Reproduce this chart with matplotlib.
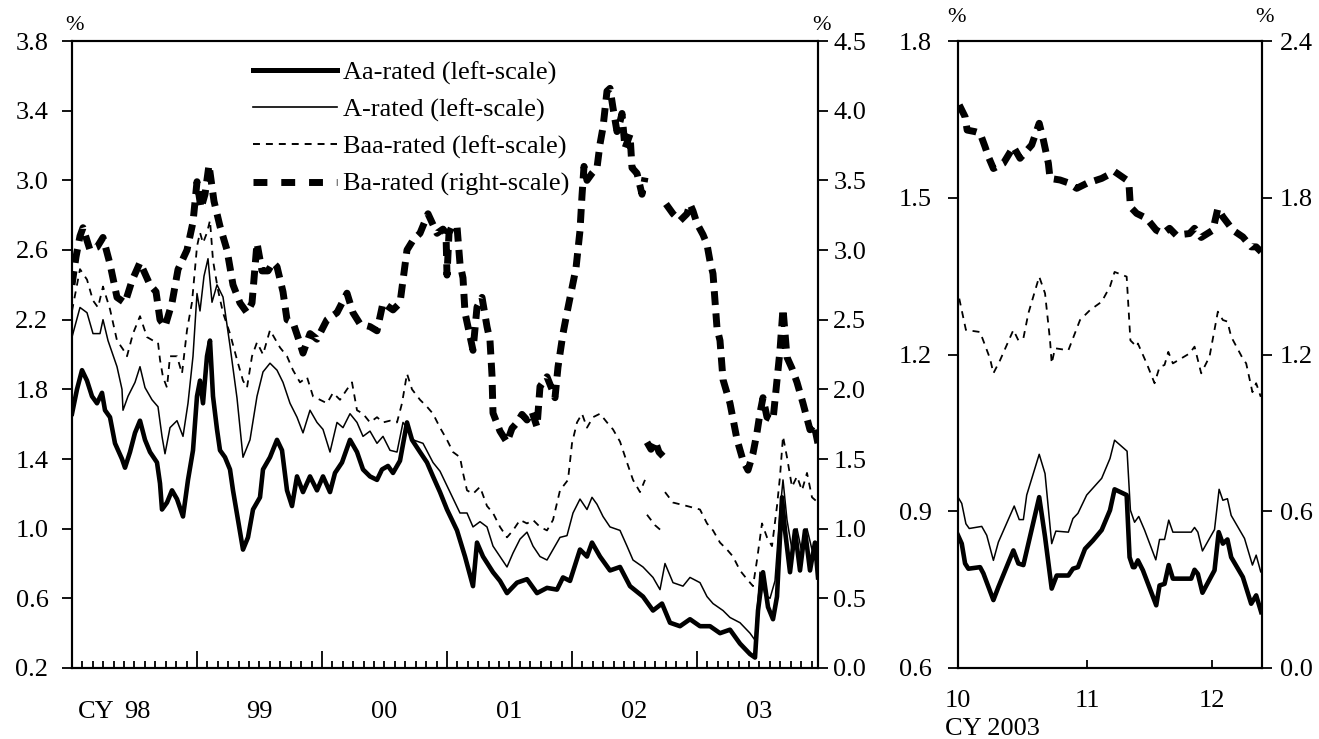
import numpy as np
import matplotlib
matplotlib.use("Agg")
import matplotlib.pyplot as plt
from matplotlib.lines import Line2D
from matplotlib.ticker import FormatStrFormatter, FixedLocator
from matplotlib.transforms import blended_transform_factory

plt.rcParams['font.family'] = ['Liberation Serif', 'DejaVu Serif']
plt.rcParams['font.size'] = 19
plt.rcParams['lines.scale_dashes'] = False

nan = float('nan')

# ---------------- Left panel: daily yields, CY1998 - CY2003 (decimal years) ----------------
aa_t = [1998.000, 1998.040, 1998.080, 1998.120, 1998.160, 1998.200, 1998.240, 1998.264, 1998.304, 1998.344,
        1998.400, 1998.424, 1998.464, 1998.504, 1998.544, 1998.584, 1998.624, 1998.680, 1998.704, 1998.720,
        1998.760, 1998.800, 1998.840, 1998.888, 1998.928, 1998.968, 1999.000, 1999.024, 1999.048, 1999.080,
        1999.104, 1999.128, 1999.160, 1999.184, 1999.224, 1999.264, 1999.288, 1999.328, 1999.368, 1999.408,
        1999.448, 1999.504, 1999.528, 1999.584, 1999.640, 1999.680, 1999.720, 1999.760, 1999.800, 1999.848,
        1999.904, 1999.960, 2000.008, 2000.064, 2000.104, 2000.160, 2000.224, 2000.280, 2000.328, 2000.384,
        2000.440, 2000.480, 2000.528, 2000.568, 2000.624, 2000.680, 2000.720, 2000.784, 2000.840, 2000.888,
        2000.944, 2001.000, 2001.080, 2001.144, 2001.208, 2001.240, 2001.288, 2001.368, 2001.424, 2001.480,
        2001.560, 2001.640, 2001.720, 2001.800, 2001.880, 2001.928, 2001.984, 2002.064, 2002.120, 2002.160,
        2002.224, 2002.304, 2002.384, 2002.464, 2002.568, 2002.648, 2002.720, 2002.784, 2002.864, 2002.944,
        2003.024, 2003.104, 2003.184, 2003.264, 2003.344, 2003.424, 2003.464, 2003.488, 2003.528, 2003.568,
        2003.608, 2003.640, 2003.680, 2003.704, 2003.744, 2003.784, 2003.824, 2003.864, 2003.904, 2003.944,
        2003.968]
aa_v = [1.66, 1.80, 1.91, 1.85, 1.76, 1.72, 1.78, 1.68, 1.64, 1.49,
        1.40, 1.35, 1.44, 1.55, 1.62, 1.51, 1.44, 1.38, 1.26, 1.11,
        1.15, 1.22, 1.17, 1.07, 1.28, 1.45, 1.76, 1.85, 1.72, 1.99,
        2.08, 1.76, 1.57, 1.45, 1.41, 1.34, 1.22, 1.05, 0.88, 0.95,
        1.11, 1.18, 1.34, 1.41, 1.51, 1.45, 1.22, 1.13, 1.30, 1.21,
        1.30, 1.22, 1.30, 1.21, 1.32, 1.38, 1.51, 1.44, 1.34, 1.30,
        1.28, 1.34, 1.36, 1.32, 1.39, 1.61, 1.51, 1.44, 1.38, 1.30,
        1.21, 1.11, 0.99, 0.84, 0.67, 0.92, 0.84, 0.75, 0.70, 0.63,
        0.69, 0.71, 0.63, 0.66, 0.65, 0.72, 0.70, 0.88, 0.84, 0.92,
        0.84, 0.76, 0.78, 0.67, 0.61, 0.53, 0.57, 0.46, 0.44, 0.48,
        0.44, 0.44, 0.40, 0.42, 0.34, 0.28, 0.26, 0.53, 0.75, 0.55,
        0.48, 0.61, 1.18, 0.99, 0.75, 0.99, 0.76, 0.99, 0.76, 0.92,
        0.72]

a_t = [1998.000, 1998.064, 1998.120, 1998.168, 1998.224, 1998.248, 1998.288, 1998.360, 1998.400, 1998.408,
       1998.448, 1998.504, 1998.544, 1998.584, 1998.640, 1998.688, 1998.720, 1998.744, 1998.784, 1998.840,
       1998.888, 1998.928, 1998.968, 1999.000, 1999.024, 1999.056, 1999.088, 1999.120, 1999.160, 1999.208,
       1999.264, 1999.320, 1999.368, 1999.424, 1999.480, 1999.528, 1999.584, 1999.640, 1999.688, 1999.744,
       1999.800, 1999.848, 1999.904, 1999.960, 2000.008, 2000.064, 2000.120, 2000.168, 2000.224, 2000.280,
       2000.328, 2000.384, 2000.440, 2000.488, 2000.544, 2000.600, 2000.648, 2000.680, 2000.728, 2000.808,
       2000.888, 2000.944, 2001.024, 2001.104, 2001.160, 2001.208, 2001.264, 2001.320, 2001.368, 2001.424,
       2001.480, 2001.528, 2001.584, 2001.640, 2001.688, 2001.744, 2001.800, 2001.848, 2001.904, 2001.960,
       2002.008, 2002.064, 2002.120, 2002.160, 2002.200, 2002.248, 2002.304, 2002.384, 2002.440, 2002.488,
       2002.568, 2002.648, 2002.704, 2002.744, 2002.808, 2002.888, 2002.944, 2003.024, 2003.080, 2003.128,
       2003.208, 2003.264, 2003.344, 2003.424, 2003.464, 2003.504, 2003.544, 2003.584, 2003.624, 2003.664,
       2003.688, 2003.720, 2003.760, 2003.800, 2003.840, 2003.880, 2003.920, 2003.968]
a_v = [2.10, 2.27, 2.24, 2.12, 2.12, 2.20, 2.08, 1.93, 1.80, 1.68,
       1.76, 1.84, 1.93, 1.81, 1.74, 1.70, 1.53, 1.43, 1.58, 1.62,
       1.53, 1.72, 1.99, 2.35, 2.25, 2.45, 2.55, 2.30, 2.40, 2.33,
       2.05, 1.75, 1.41, 1.51, 1.76, 1.90, 1.95, 1.91, 1.84, 1.72,
       1.64, 1.55, 1.68, 1.61, 1.57, 1.44, 1.61, 1.58, 1.66, 1.61,
       1.53, 1.56, 1.49, 1.53, 1.45, 1.44, 1.61, 1.58, 1.51, 1.49,
       1.38, 1.33, 1.21, 1.09, 1.09, 1.01, 1.04, 1.01, 0.90, 0.84,
       0.78, 0.86, 0.94, 0.98, 0.90, 0.84, 0.82, 0.88, 0.95, 0.96,
       1.09, 1.17, 1.11, 1.18, 1.14, 1.07, 1.01, 0.99, 0.90, 0.82,
       0.78, 0.72, 0.65, 0.80, 0.69, 0.67, 0.72, 0.69, 0.61, 0.57,
       0.53, 0.49, 0.46, 0.40, 0.36, 0.75, 0.62, 0.60, 0.70, 1.10,
       1.28, 1.05, 0.88, 1.00, 0.86, 1.00, 0.88, 0.80]

baa_t = [1998.000, 1998.064, 1998.120, 1998.168, 1998.208, 1998.248, 1998.304, 1998.360, 1998.408, 1998.440,
         1998.488, 1998.544, 1998.600, 1998.648, 1998.688, 1998.704, 1998.728, 1998.760, 1998.784, 1998.840,
         1998.880, 1998.920, 1998.960, 1999.000, 1999.024, 1999.048, 1999.080, 1999.104, 1999.128, 1999.168,
         1999.208, 1999.264, 1999.320, 1999.368, 1999.400, 1999.440, 1999.480, 1999.528, 1999.584, 1999.664,
         1999.720, 1999.768, 1999.824, 1999.880, 1999.928, 1999.984, 2000.040, 2000.088, 2000.144, 2000.200,
         2000.240, 2000.280, 2000.328, 2000.384, 2000.440, 2000.488, 2000.544, 2000.600, 2000.640, 2000.680,
         2000.720, 2000.784, 2000.840, 2000.888, 2000.944, 2001.000, 2001.048, 2001.104, 2001.128, 2001.160,
         2001.208, 2001.264, 2001.320, 2001.368, 2001.424, 2001.480, 2001.528, 2001.584, 2001.640, 2001.688,
         2001.744, 2001.800, 2001.848, 2001.904, 2001.968, 2002.000, 2002.040, 2002.080, 2002.120, 2002.168,
         2002.224, 2002.280, 2002.328, 2002.384, 2002.440, 2002.488, 2002.544, 2002.584, 2002.592, 2002.600,
         2002.664, 2002.728, 2002.736, 2002.744, 2002.808, 2002.920, 2003.024, 2003.080, 2003.128, 2003.184,
         2003.240, 2003.288, 2003.344, 2003.400, 2003.448, 2003.480, 2003.520, 2003.560, 2003.600, 2003.640,
         2003.664, 2003.688, 2003.720, 2003.760, 2003.800, 2003.840, 2003.880, 2003.920, 2003.968]
baa_v = [2.25, 2.49, 2.43, 2.31, 2.27, 2.39, 2.26, 2.08, 2.03, 1.99,
         2.12, 2.22, 2.10, 2.08, 2.07, 1.97, 1.87, 1.81, 1.99, 1.99,
         1.89, 2.14, 2.30, 2.62, 2.70, 2.64, 2.70, 2.77, 2.54, 2.37,
         2.24, 2.12, 1.97, 1.85, 1.81, 1.99, 2.07, 2.00, 2.14, 2.04,
         1.99, 1.91, 1.84, 1.87, 1.76, 1.74, 1.72, 1.78, 1.74, 1.80,
         1.84, 1.68, 1.66, 1.61, 1.64, 1.61, 1.62, 1.61, 1.72, 1.89,
         1.80, 1.74, 1.70, 1.66, 1.58, 1.51, 1.44, 1.41, 1.32, 1.22,
         1.20, 1.24, 1.13, 1.09, 1.01, 0.95, 0.99, 1.05, 1.03, 1.05,
         1.01, 0.99, 1.05, 1.22, 1.28, 1.49, 1.61, 1.66, 1.58, 1.64,
         1.66, 1.61, 1.57, 1.50, 1.38, 1.28, 1.21, 1.28, nan, 1.08,
         1.02, 0.98, nan, 1.21, 1.15, 1.13, 1.11, 1.03, 0.99, 0.92,
         0.88, 0.84, 0.76, 0.71, 0.67, 0.82, 1.03, 0.95, 0.90, 1.13,
         1.30, 1.53, 1.41, 1.24, 1.30, 1.22, 1.32, 1.18, 1.15]

ba_t = [1998.000, 1998.032, 1998.064, 1998.088, 1998.144, 1998.200, 1998.248, 1998.304, 1998.360, 1998.424,
        1998.480, 1998.544, 1998.624, 1998.672, 1998.704, 1998.744, 1998.800, 1998.848, 1998.920, 1998.968,
        1999.000, 1999.032, 1999.064, 1999.096, 1999.136, 1999.184, 1999.240, 1999.288, 1999.344, 1999.400,
        1999.440, 1999.480, 1999.520, 1999.568, 1999.608, 1999.640, 1999.688, 1999.720, 1999.768, 1999.824,
        1999.848, 1999.904, 1999.960, 2000.040, 2000.120, 2000.200, 2000.248, 2000.304, 2000.384, 2000.440,
        2000.488, 2000.568, 2000.624, 2000.680, 2000.728, 2000.784, 2000.848, 2000.920, 2000.968, 2000.992,
        2001.000, 2001.016, 2001.040, 2001.080, 2001.104, 2001.128, 2001.144, 2001.168, 2001.208, 2001.240,
        2001.280, 2001.320, 2001.344, 2001.360, 2001.368, 2001.424, 2001.480, 2001.520, 2001.560, 2001.600,
        2001.640, 2001.680, 2001.720, 2001.744, 2001.800, 2001.840, 2001.864, 2001.888, 2001.928, 2001.960,
        2002.000, 2002.032, 2002.064, 2002.080, 2002.096, 2002.120, 2002.160, 2002.200, 2002.224, 2002.248,
        2002.280, 2002.304, 2002.328, 2002.360, 2002.384, 2002.400, 2002.424, 2002.464, 2002.480, 2002.520,
        2002.560, 2002.584, 2002.592, 2002.600, 2002.632, 2002.664, 2002.696, 2002.728, 2002.740, 2002.752,
        2002.808, 2002.864, 2002.920, 2002.944, 2002.968, 2003.000, 2003.048, 2003.080, 2003.104, 2003.128,
        2003.144, 2003.160, 2003.184, 2003.208, 2003.264, 2003.320, 2003.368, 2003.408, 2003.448, 2003.480,
        2003.504, 2003.528, 2003.560, 2003.608, 2003.640, 2003.664, 2003.688, 2003.720, 2003.760, 2003.800,
        2003.848, 2003.904, 2003.936, 2003.968]
ba_v = [2.75, 2.95, 3.10, 3.16, 3.00, 3.02, 3.09, 2.90, 2.66, 2.62,
        2.78, 2.91, 2.75, 2.70, 2.50, 2.45, 2.62, 2.86, 3.00, 3.20,
        3.49, 3.30, 3.40, 3.61, 3.35, 3.17, 3.00, 2.75, 2.62, 2.55,
        2.62, 3.05, 2.85, 2.85, 2.91, 2.88, 2.70, 2.50, 2.48, 2.33,
        2.26, 2.40, 2.36, 2.50, 2.55, 2.69, 2.55, 2.47, 2.45, 2.42,
        2.62, 2.57, 2.62, 3.00, 3.07, 3.12, 3.26, 3.12, 3.15, 3.12,
        2.82, 3.12, 3.17, 3.17, 2.90, 2.80, 2.55, 2.45, 2.28, 2.59,
        2.66, 2.45, 2.35, 2.10, 1.83, 1.70, 1.62, 1.72, 1.76, 1.82,
        1.78, 1.84, 1.73, 2.02, 2.09, 2.00, 1.94, 2.16, 2.40, 2.55,
        2.73, 2.87, 3.14, 3.39, 3.60, 3.50, 3.55, 3.59, 3.76, 3.88,
        4.14, 4.16, 4.02, 3.85, 3.92, 3.98, 3.73, 3.83, 3.59, 3.55,
        3.40, 3.52, nan, 1.62, 1.57, 1.63, 1.55, 1.52, nan, 3.33,
        3.26, 3.21, 3.26, 3.33, 3.28, 3.19, 3.11, 3.04, 2.92, 2.83,
        2.63, 2.44, 2.35, 2.07, 1.90, 1.64, 1.49, 1.42, 1.54, 1.69,
        1.83, 1.94, 1.80, 1.78, 2.07, 2.28, 2.58, 2.23, 2.15, 2.05,
        1.90, 1.71, 1.75, 1.61]

year_labels = ['98', '99', '00', '01', '02', '03']
year_starts = [1998, 1999, 2000, 2001, 2002, 2003]

# ---------------- Right panel: Oct 1 - mid Dec 2003 (days since Oct 1) ----------------
q_aa_d = [0.0, 0.9, 1.7, 2.5, 5.3, 6.1, 8.5, 9.7, 13.3, 14.5, 15.7, 19.5, 20.9, 22.5, 23.7, 26.5,
          27.6, 28.8, 30.5, 32.4, 34.5, 36.5, 37.6, 40.5, 41.2, 42.0, 42.4, 43.2, 44.4, 47.6, 48.4,
          49.6, 50.6, 51.6, 56.0, 56.8, 57.6, 58.7, 61.6, 62.6, 63.6, 64.7, 65.6, 68.4, 70.4, 71.6, 72.8]
q_aa_v = [0.854, 0.838, 0.80, 0.79, 0.793, 0.781, 0.73, 0.755, 0.825, 0.80, 0.797, 0.927, 0.851, 0.752,
          0.777, 0.777, 0.79, 0.793, 0.828, 0.844, 0.864, 0.902, 0.942, 0.931, 0.812, 0.793, 0.793, 0.806,
          0.787, 0.72, 0.758, 0.761, 0.797, 0.771, 0.771, 0.788, 0.78, 0.744, 0.787, 0.86, 0.838, 0.846,
          0.812, 0.774, 0.723, 0.739, 0.707]

q_a_d = [0.0, 0.9, 1.9, 2.7, 5.7, 6.9, 8.5, 9.7, 13.5, 14.7, 15.7, 16.5, 19.5, 20.9, 22.5, 23.5,
         26.5, 27.6, 28.8, 30.9, 34.5, 36.5, 37.6, 40.6, 41.4, 42.4, 43.4, 44.8, 47.5, 48.4, 49.6,
         50.6, 51.6, 56.0, 56.8, 57.6, 58.7, 61.6, 62.7, 63.6, 64.7, 65.6, 68.8, 70.7, 71.6, 72.7]
q_a_v = [0.927, 0.915, 0.876, 0.867, 0.871, 0.854, 0.806, 0.841, 0.91, 0.884, 0.884, 0.931, 1.009,
         0.972, 0.838, 0.862, 0.86, 0.886, 0.896, 0.931, 0.963, 1.001, 1.036, 1.015, 0.902, 0.879, 0.89,
         0.864, 0.807, 0.846, 0.846, 0.883, 0.86, 0.86, 0.869, 0.86, 0.824, 0.865, 0.942, 0.921, 0.924,
         0.892, 0.848, 0.797, 0.816, 0.784]

q_baa_d = [0.3, 1.9, 5.3, 7.7, 8.5, 10.1, 13.3, 14.5, 15.7, 16.9, 19.5, 20.9, 22.1, 22.5, 23.3,
           26.5, 29.3, 31.7, 34.5, 36.5, 37.6, 40.5, 41.4, 42.9, 43.2, 45.3, 47.2, 48.4, 49.6, 50.5,
           51.6, 55.6, 56.8, 58.4, 60.4, 62.4, 63.6, 64.7, 65.6, 68.4, 69.2, 70.7, 71.6, 72.7]
q_baa_v = [1.307, 1.247, 1.243, 1.192, 1.164, 1.189, 1.247, 1.227, 1.231, 1.279, 1.349, 1.317, 1.227,
           1.183, 1.212, 1.208, 1.266, 1.285, 1.301, 1.33, 1.358, 1.349, 1.227, 1.215, 1.221, 1.183,
           1.145, 1.176, 1.18, 1.205, 1.183, 1.202, 1.215, 1.164, 1.196, 1.282, 1.266, 1.263, 1.234,
           1.192, 1.183, 1.128, 1.145, 1.119]

q_ba_d = [0.3, 1.7, 2.2, 4.1, 5.3, 6.5, 7.3, 8.5, 10.9, 13.3, 14.9, 17.7, 19.5, 20.5, 21.7, 22.1,
          24.5, 26.5, 28.5, 30.9, 34.5, 37.6, 40.5, 41.1, 41.4, 42.9, 45.3, 47.6, 49.2, 50.8, 52.4,
          55.6, 56.8, 58.4, 61.2, 62.4, 63.6, 64.8, 66.0, 68.4, 70.4, 71.6, 72.8]
q_ba_v = [2.155, 2.11, 2.059, 2.053, 2.047, 1.995, 1.957, 1.912, 1.932, 1.995, 1.951, 2.002, 2.085,
          2.021, 1.932, 1.874, 1.868, 1.857, 1.836, 1.855, 1.874, 1.9, 1.868, 1.842, 1.765, 1.74, 1.721,
          1.676, 1.663, 1.683, 1.657, 1.663, 1.683, 1.648, 1.676, 1.759, 1.727, 1.702, 1.676, 1.65,
          1.612, 1.612, 1.593]

month_labels = ['10', '11', '12']
month_starts = [0, 31, 61]

labels = ['Aa-rated (left-scale)', 'A-rated (left-scale)', 'Baa-rated (left-scale)', 'Ba-rated (right-scale)']

# ---------------- styles ----------------
st_aa = dict(color='black', lw=3.3, solid_joinstyle='round')
st_a = dict(color='black', lw=1.1)
st_baa = dict(color='black', lw=1.3, linestyle=(0, (5.0, 4.3)), dash_capstyle='butt')
st_ba = dict(color='black', lw=5.0, linestyle=(0, (10.0, 6.0)), dash_capstyle='butt')

W, H = 1319, 739
fig = plt.figure(figsize=(W / 100, H / 100), dpi=100)

def frac(x0, y0, x1, y1):
    return [x0 / W, 1 - y1 / H, (x1 - x0) / W, (y1 - y0) / H]

axL = fig.add_axes(frac(72, 41, 818, 668))
axL2 = axL.twinx()
axR = fig.add_axes(frac(958, 41, 1262, 668))
axR2 = axR.twinx()

axL.plot(aa_t, aa_v, **st_aa)
axL.plot(a_t, a_v, **st_a)
axL.plot(baa_t, baa_v, **st_baa)
axL2.plot(ba_t, ba_v, **st_ba)

axR.plot(q_aa_d, q_aa_v, **st_aa)
axR.plot(q_a_d, q_a_v, **st_a)
axR.plot(q_baa_d, q_baa_v, **st_baa)
axR2.plot(q_ba_d, q_ba_v, **st_ba)

# ---- axes setup: left panel ----
axL.set_xlim(1998, 1998 + 746 / 125)
axL.set_ylim(0.2, 3.8)
axL.set_yticks(np.round(np.arange(0.2, 3.81, 0.4), 1))
axL2.set_ylim(0.0, 4.5)
axL2.set_yticks(np.round(np.arange(0.0, 4.51, 0.5), 1))
axL.xaxis.set_major_locator(FixedLocator(year_starts))
axL.xaxis.set_minor_locator(FixedLocator([y + m / 12 for y in year_starts for m in range(1, 12)]))
axL.set_xticklabels([])
axL.tick_params(axis='x', which='major', direction='in', length=12, width=1.3, labelbottom=False)
axL.tick_params(axis='x', which='minor', direction='in', length=5, width=1.3)
axL.tick_params(axis='y', direction='out', length=7, width=1.3, pad=10, labelsize=19)
axL2.tick_params(axis='y', direction='out', length=7, width=1.3, pad=4, labelsize=19)
axL.yaxis.set_major_formatter(FormatStrFormatter('%.1f'))
axL2.yaxis.set_major_formatter(FormatStrFormatter('%.1f'))

# ---- axes setup: right panel ----
axR.set_xlim(0, 73)
axR.set_ylim(0.6, 1.8)
axR.set_yticks([0.6, 0.9, 1.2, 1.5, 1.8])
axR2.set_ylim(0.0, 2.4)
axR2.set_yticks([0.0, 0.6, 1.2, 1.8, 2.4])
axR.set_xticks(month_starts)
axR.set_xticklabels(month_labels)
axR.tick_params(axis='x', direction='in', length=6, width=1.3, pad=16, labelsize=19)
axR.tick_params(axis='y', direction='out', length=7, width=1.3, pad=12, labelsize=19)
axR2.tick_params(axis='y', direction='out', length=7, width=1.3, pad=6, labelsize=19)
axR.yaxis.set_major_formatter(FormatStrFormatter('%.1f'))
axR2.yaxis.set_major_formatter(FormatStrFormatter('%.1f'))

for ax in (axL, axL2, axR, axR2):
    for s in ax.spines.values():
        s.set_linewidth(1.5)

# year labels at mid-year
trL = blended_transform_factory(axL.transData, axL.transAxes)
for y0, lab in zip(year_starts, year_labels):
    xpos = y0 + 0.5 + (0.02 if lab == '98' else 0.0)
    axL.text(xpos, -0.070, lab, transform=trL, ha='center', va='center', fontsize=19)
axL.text(1998.19, -0.070, 'CY', transform=trL, ha='center', va='center', fontsize=19)

trR = blended_transform_factory(axR.transData, axR.transAxes)
axR.text(-3.2, -0.098, 'CY 2003', transform=trR, ha='left', va='center', fontsize=19)

# percent signs
fig.text(75 / W, 1 - 26 / H, '%', ha='center', va='center', fontsize=16)
fig.text(821 / W, 1 - 25 / H, '%', ha='center', va='center', fontsize=16)
fig.text(957 / W, 1 - 17 / H, '%', ha='center', va='center', fontsize=16)
fig.text(1265 / W, 1 - 17 / H, '%', ha='center', va='center', fontsize=16)

# legend
handles = [Line2D([], [], color='black', lw=3.6),
           Line2D([], [], color='black', lw=1.2),
           Line2D([], [], color='black', lw=1.4, linestyle=(0, (5.0, 4.3)), dash_capstyle='butt'),
           Line2D([], [], color='black', lw=5.0, linestyle=(0, (10.0, 10.0)), dash_capstyle='butt')]
leg = axL2.legend(handles, labels, loc='upper left', bbox_to_anchor=(0.2426, 0.968),
                  frameon=False, borderpad=0, borderaxespad=0, handlelength=3.2,
                  handletextpad=0.22, labelspacing=0.50, fontsize=19)

fig.savefig('out.png', dpi=100)
